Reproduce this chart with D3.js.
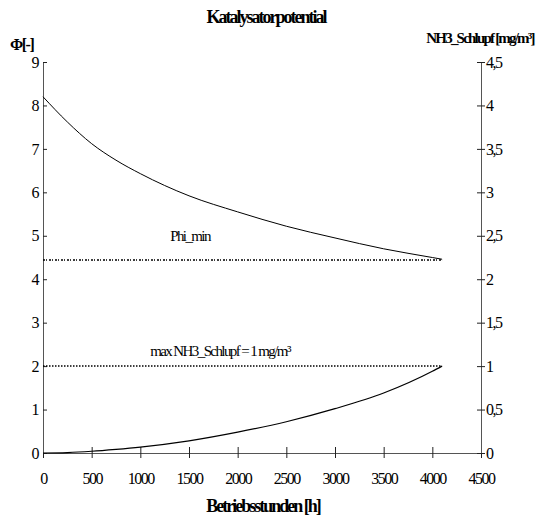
<!DOCTYPE html>
<html>
<head>
<meta charset="utf-8">
<style>
  body { margin: 0; background: #fff; }
  svg text { font-family: "Times New Roman", "Liberation Serif", Tinos, "Nimbus Roman", serif !important; fill: #000; }
  .tick text { font-size: 16px; letter-spacing: -1.5px; }
  .tick line { stroke: #222; }
</style>
</head>
<body>
<svg id="chart" width="538" height="518"></svg>
<script src="https://d3js.org/d3.v7.min.js"></script>
<script>
// operating hours
var hours = [0, 250, 500, 750, 1000, 1500, 2000, 2500, 3000, 3500, 4000, 4100]
// catalyst potential Phi [-]
var phi = [8.2, 7.62, 7.12, 6.74, 6.43, 5.92, 5.55, 5.22, 4.95, 4.7, 4.5, 4.46]
// NH3 slip [mg/m3]
var slip = [0, 0.005, 0.02, 0.042, 0.068, 0.14, 0.24, 0.36, 0.51, 0.69, 0.94, 1.0]
// limit lines
var phiMin = 4.44
var slipMax = 1
var limitHours = [0, 4100]

var xTicks = [0, 500, 1000, 1500, 2000, 2500, 3000, 3500, 4000, 4500]
var leftTicks = [0, 1, 2, 3, 4, 5, 6, 7, 8, 9]
var rightTicks = [0, 0.5, 1, 1.5, 2, 2.5, 3, 3.5, 4, 4.5]

var svg = d3.select('#chart')

var x = d3.scaleLinear().domain([0, 4500]).range([43, 481])
var yL = d3.scaleLinear().domain([0, 9]).range([453, 62])
var yR = d3.scaleLinear().domain([0, 4.5]).range([453, 62])

var de = d3.formatLocale({decimal: ',', thousands: '', grouping: [3], currency: ['', '']})
var fmtR = function (d) { return d === 0 ? '0' : de.format(',')(d) }

// axes
var gx = svg.append('g')
  .attr('transform', `translate(0, ${yL(0)})`)
  .call(d3.axisBottom(x).tickValues(xTicks).tickSize(5).tickSizeOuter(0).tickFormat(d3.format('d')))
gx.selectAll('.tick line').attr('y1', -6)
gx.selectAll('.tick text').attr('y', 20)

var gl = svg.append('g')
  .attr('transform', `translate(${x(0)}, 0)`)
  .call(d3.axisLeft(yL).tickValues(leftTicks).tickSize(4).tickSizeOuter(0))
gl.selectAll('.tick line').attr('x2', 4)
gl.selectAll('.tick text').attr('x', -5)

var gr = svg.append('g')
  .attr('transform', `translate(${x(4500)}, 0)`)
  .call(d3.axisRight(yR).tickValues(rightTicks).tickSize(4).tickSizeOuter(0).tickFormat(fmtR))
gr.selectAll('.tick line').attr('x2', 4).attr('x1', -4)
gr.selectAll('.tick text').attr('x', 5)

svg.selectAll('g').attr('font-family', null)
svg.selectAll('.domain').attr('stroke', '#555')

// limit lines
svg.append('path')
  .datum(limitHours)
  .attr('fill', 'none')
  .attr('stroke', '#000')
  .attr('stroke-width', 1.5)
  .attr('stroke-dasharray', '2,1,1,2')
  .attr('d', d3.line().x((d) => x(d)).y(() => yL(phiMin)))

svg.append('path')
  .datum(limitHours)
  .attr('fill', 'none')
  .attr('stroke', '#000')
  .attr('stroke-width', 1.5)
  .attr('stroke-dasharray', '1.5,1.5')
  .attr('d', d3.line().x((d) => x(d)).y(() => yR(slipMax)))

// curves
svg.append('path')
  .datum(hours)
  .attr('fill', 'none')
  .attr('stroke', '#000')
  .attr('stroke-width', 1)
  .attr('d', d3.line().curve(d3.curveMonotoneX).x((d) => x(d)).y((d, i) => yL(phi[i])))

svg.append('path')
  .datum(hours)
  .attr('fill', 'none')
  .attr('stroke', '#000')
  .attr('stroke-width', 1.2)
  .attr('d', d3.line().curve(d3.curveMonotoneX).x((d) => x(d)).y((d, i) => yR(slip[i])))

// labels
svg.append('text')
  .attr('x', 266).attr('y', 23)
  .attr('text-anchor', 'middle')
  .style('font-size', '18px').style('font-weight', 'bold').style('letter-spacing', '-2px')
  .text('Katalysatorpotential')

svg.append('text')
  .attr('x', 10).attr('y', 50)
  .style('font-size', '16px').style('font-weight', 'bold').style('letter-spacing', '-1.5px')
  .text('Φ[-]')

svg.append('text')
  .attr('x', 480).attr('y', 43)
  .attr('text-anchor', 'middle')
  .style('font-size', '15px').style('font-weight', 'bold').style('letter-spacing', '-1.8px')
  .text('NH3_Schlupf [mg/m³]')

svg.append('text')
  .attr('x', 263).attr('y', 512)
  .attr('text-anchor', 'middle')
  .style('font-size', '18px').style('font-weight', 'bold').style('letter-spacing', '-2px')
  .text('Betriebsstunden [h]')

svg.append('text')
  .attr('x', 190).attr('y', 241)
  .attr('text-anchor', 'middle')
  .style('font-size', '15px').style('letter-spacing', '-1.6px')
  .text('Phi_min')

svg.append('text')
  .attr('x', 220).attr('y', 356)
  .attr('text-anchor', 'middle')
  .style('font-size', '15px').style('letter-spacing', '-1.6px')
  .text('max NH3_Schlupf = 1 mg/m³')
</script>
</body>
</html>
